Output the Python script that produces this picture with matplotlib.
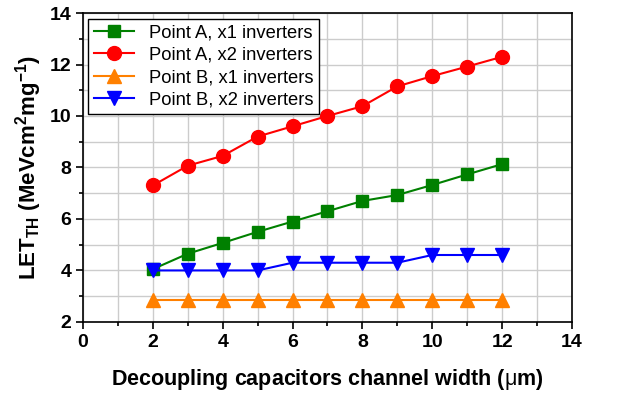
import numpy as np
import matplotlib
matplotlib.use('Agg')
import matplotlib.pyplot as plt
from matplotlib.ticker import MultipleLocator

plt.rcParams['font.family'] = ['Liberation Sans', 'DejaVu Sans']
plt.rcParams['mathtext.fontset'] = 'custom'
plt.rcParams['mathtext.rm'] = 'Liberation Sans'
plt.rcParams['mathtext.bf'] = 'Liberation Sans:bold'
plt.rcParams['mathtext.default'] = 'bf'

# 数据
width = [2, 3, 4, 5, 6, 7, 8, 9, 10, 11, 12]
a_x1 = [4.05, 4.65, 5.07, 5.5, 5.9, 6.3, 6.7, 6.93, 7.32, 7.73, 8.13]
a_x2 = [7.3, 8.07, 8.45, 9.2, 9.6, 10.0, 10.38, 11.15, 11.55, 11.92, 12.3]
b_x1 = [2.85, 2.85, 2.85, 2.85, 2.85, 2.85, 2.85, 2.85, 2.85, 2.85, 2.85]
b_x2 = [4.0, 4.0, 4.0, 4.0, 4.3, 4.3, 4.3, 4.3, 4.6, 4.6, 4.6]

fig = plt.figure(figsize=(6.17, 3.95), dpi=100)
ax = fig.add_axes([0.1345, 0.185, 0.7925, 0.782])

ax.plot(width, a_x1, color='#008000', marker='s', ms=8.5, lw=1.5, label='Point A, x1 inverters')
ax.plot(width, a_x2, color='#ff0000', marker='o', ms=10, lw=1.5, label='Point A, x2 inverters')
ax.plot(width, b_x1, color='#ff8000', marker='^', ms=10, lw=1.5, label='Point B, x1 inverters')
ax.plot(width, b_x2, color='#0000ff', marker='v', ms=10, lw=1.5, label='Point B, x2 inverters')

ax.set_xlim(0, 14)
ax.set_ylim(2, 14)
ax.xaxis.set_major_locator(MultipleLocator(2))
ax.xaxis.set_minor_locator(MultipleLocator(1))
ax.yaxis.set_major_locator(MultipleLocator(2))
ax.yaxis.set_minor_locator(MultipleLocator(1))
ax.grid(True, which='both', color='#cccccc', lw=1)
ax.set_axisbelow(True)

ax.tick_params(which='both', direction='out', top=False, right=False, width=1.2)
ax.tick_params(which='major', length=5, labelsize=14)
ax.tick_params(which='minor', length=3)
for lab in ax.get_xticklabels() + ax.get_yticklabels():
    lab.set_fontweight('bold')
for s in ax.spines.values():
    s.set_linewidth(1.2)

ax.set_xlabel(r'Decoupling capacitors channel width ($\mathrm{\mu}$m)', fontsize=15.5,
              fontweight='bold', labelpad=12)
ax.set_ylabel(r'LET$_{TH}$ (MeVcm$^{2}$mg$^{-1}$)', fontsize=16,
              fontweight='bold', labelpad=4)

leg = ax.legend(loc='upper left', fontsize=13.2, fancybox=False, framealpha=1,
                edgecolor='black', handlelength=2.2, borderpad=0.3, labelspacing=0.3,
                borderaxespad=0.3)
leg.get_frame().set_linewidth(1.0)

fig.savefig('out.png', dpi=100)
